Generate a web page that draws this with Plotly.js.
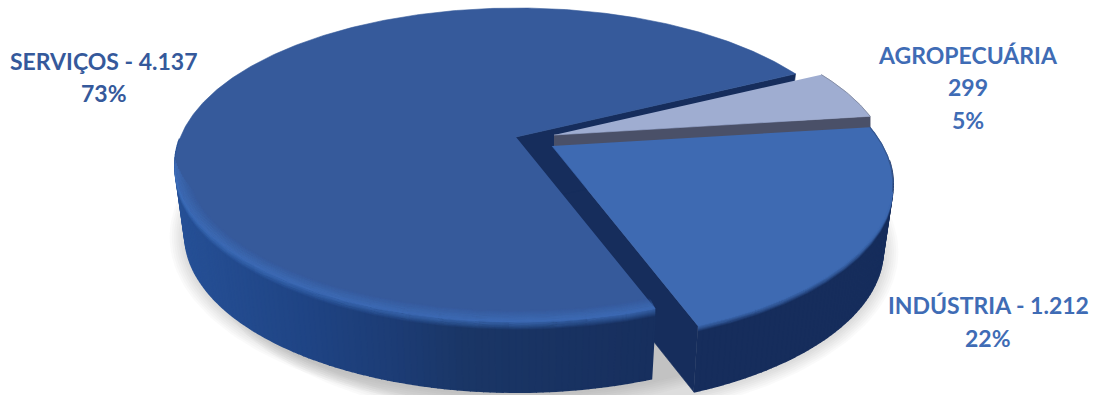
<!DOCTYPE html>
<html>
<head>
<meta charset="utf-8">
<script src="https://cdn.plot.ly/plotly-3.0.1.min.js"></script>
<style>html,body{margin:0;padding:0;background:#fff}#chart{width:1097px;height:395px}</style>
</head>
<body>
<div id="chart"></div>
<script>
// Employment by sector, drawn as a tilted exploded pie.
const sectors = ["SERVIÇOS", "INDÚSTRIA", "AGROPECUÁRIA"];
const totals = [4137, 1212, 299];
const shares = [73, 22, 5];

const serviceLabel = ["SERVIÇOS - 4.137", "73%"];
const industryLabel = ["INDÚSTRIA - 1.212", "22%"];
const farmLabel = ["AGROPECUÁRIA", "299", "5%"];

const topColors = ["#365a9b", "#3e6ab2", "#9fadd1"];
const navy = "#162d5c";
const farmWall = "#4a5068";
const labelColors = ["#35599b", "#3f6cb5", "#3f6cb5"];

// Disc geometry per slice, in pixel-sized axis units. Perspective puts each hub
// above the centre of its rim ellipse; the floor ellipse is a little narrower.
const discs = [
  {hub: [516, 137], rim: {cx: 517, cy: 165, a: 342, b: 157}, floor: {cx: 517, cy: 235, a: 332, b: 157}},
  {hub: [552, 146], rim: {cx: 551, cy: 184, a: 342, b: 157}, floor: {cx: 551, cy: 250, a: 332, b: 157}},
  {hub: [554, 135], rim: {cx: 548, cy: 169, a: 342, b: 157}, floor: {cx: 548, cy: 235, a: 332, b: 157}}
];
const hubDrop = 68;
const farmWallDrop = 12;
const startDeg = 26.5;
const foreshorten = 0.453;
const sideStops = [[175, [38, 80, 150]], [300, [31, 68, 132]], [400, [28, 59, 115]], [460, [26, 54, 102]], [650, [23, 47, 94]]];

const TAU = Math.PI * 2;
const sum = totals.reduce((a, b) => a + b, 0);
const spans = totals.map(v => v / sum * 360);
const starts = [startDeg, startDeg + spans[0], startDeg + spans[0] + spans[1]];

// Angle on a slice's rim ellipse reached by the ray for a given pie angle.
function rimAngle(disc, deg) {
  const t = deg * Math.PI / 180, e = disc.rim;
  const dx = Math.cos(t), dy = -Math.sin(t) * foreshorten;
  const ox = disc.hub[0] - e.cx, oy = disc.hub[1] - e.cy;
  const A = dx * dx / (e.a * e.a) + dy * dy / (e.b * e.b);
  const B = 2 * (ox * dx / (e.a * e.a) + oy * dy / (e.b * e.b));
  const C = ox * ox / (e.a * e.a) + oy * oy / (e.b * e.b) - 1;
  const k = (-B + Math.sqrt(B * B - 4 * A * C)) / (2 * A);
  return Math.atan2((oy + k * dy) / e.b, (ox + k * dx) / e.a);
}
const at = (e, phi) => [e.cx + e.a * Math.cos(phi), e.cy + e.b * Math.sin(phi)];
function sweep(i) {
  const d = discs[i];
  const p0 = rimAngle(d, starts[i]);
  const p1 = rimAngle(d, starts[i] + spans[i]);
  const delta = ((p0 - p1) % TAU + TAU) % TAU;
  return {from: p0, to: p0 - delta};
}
function arcPoints(e, from, to, step) {
  const n = Math.max(2, Math.ceil(Math.abs(to - from) / (step || 0.01)));
  const out = [];
  for (let i = 0; i <= n; i++) out.push(at(e, from + (to - from) * i / n));
  return out;
}
function sideColor(x) {
  if (x <= sideStops[0][0]) return sideStops[0][1];
  for (let i = 1; i < sideStops.length; i++) {
    if (x <= sideStops[i][0]) {
      const [x0, c0] = sideStops[i - 1], [x1, c1] = sideStops[i];
      const f = (x - x0) / (x1 - x0);
      return c0.map((c, k) => Math.round(c + (c1[k] - c) * f));
    }
  }
  return sideStops[sideStops.length - 1][1];
}

const traces = [];
function poly(pts, color, width) {
  traces.push({type: "scatter", mode: "lines", x: pts.map(p => p[0]), y: pts.map(p => p[1]),
    fill: "toself", fillcolor: color, line: {color: color, width: width === undefined ? 0.6 : width},
    hoverinfo: "skip", showlegend: false});
}
function stroke(pts, color, width) {
  traces.push({type: "scatter", mode: "lines", x: pts.map(p => p[0]), y: pts.map(p => p[1]),
    line: {color: color, width: width}, hoverinfo: "skip", showlegend: false});
}
function wall(i, phi, color) {
  const d = discs[i];
  poly([d.hub, at(d.rim, phi), at(d.floor, phi), [d.hub[0], d.hub[1] + hubDrop]], color);
}
// The farm slice's cut face only shows as a thin strip above the industry slice.
function thinWall(i, phi, drop, color) {
  const d = discs[i], c = at(d.rim, phi);
  poly([d.hub, c, [c[0], c[1] + drop], [d.hub[0], d.hub[1] + drop]], color);
}
// Soft ground shadow below the floor of the disc.
function shadow(i) {
  const f = discs[i].floor;
  for (let k = 7; k >= 1; k--) {
    const e = {cx: f.cx, cy: f.cy + 2, a: f.a + k * 2.2, b: f.b + k * 2};
    poly(arcPoints(e, 0, TAU, 0.03), "rgba(110,110,110,0.035)", 0);
  }
}
function side(i, fixed) {
  const d = discs[i], s = sweep(i);
  const n = Math.ceil(Math.abs(s.to - s.from) / 0.02);
  for (let j = 0; j < n; j++) {
    const a = s.from + (s.to - s.from) * j / n, b = s.from + (s.to - s.from) * (j + 1) / n;
    if (Math.sin(a) < -0.15 && Math.sin(b) < -0.15) continue;
    const pts = arcPoints(d.rim, a, b).concat(arcPoints(d.floor, b, a));
    const c = fixed || "rgb(" + sideColor(pts[0][0]).join(",") + ")";
    poly(pts, c, 2);
  }
}
function topFace(i) {
  const d = discs[i], s = sweep(i);
  poly([d.hub].concat(arcPoints(d.rim, s.from, s.to)), topColors[i]);
}
// Rounded front edge: fading strokes above and below the rim line.
function bevel(i, from, to, rgb, above, below, peak) {
  const e = discs[i].rim;
  const taper = Math.sign(from - to) * 0.018;
  for (let j = above; j >= 1; j--) {
    const inner = {cx: e.cx, cy: e.cy, a: e.a - j * 1.15, b: e.b - j};
    stroke(arcPoints(inner, from, to + j * taper), "rgba(" + rgb + "," + (peak * (1 - j / (above + 1))).toFixed(3) + ")", 1.4);
  }
  for (let j = 0; j <= below; j++) {
    const low = {cx: e.cx, cy: e.cy + j, a: e.a, b: e.b};
    stroke(arcPoints(low, from, to + j * taper), "rgba(" + rgb + "," + (peak * (1 - j / (below + 1))).toFixed(3) + ")", 1.4);
  }
}

const sweeps = [sweep(0), sweep(1), sweep(2)];

shadow(0);
shadow(1);
wall(1, sweeps[1].from, navy);
side(1, navy);
wall(0, sweeps[0].from, navy);
side(0);
topFace(0);
// Services front edge runs from its cut corner round to the far left of the disc.
bevel(0, sweeps[0].to, -Math.PI + 0.03, "62,110,186", 11, 7, 0.72);
thinWall(2, sweeps[2].from, farmWallDrop, farmWall);
topFace(2);
stroke(arcPoints(discs[2].rim, sweeps[2].from, sweeps[2].to), "#868fa6", 1);
topFace(1);
// Industry front edge, then the darker trim on its right shoulder.
bevel(1, sweeps[1].from, 0.05, "62,106,178", 0, 5, 0.9);
stroke(arcPoints(discs[1].rim, 0.05, sweeps[1].to), "#34568f", 1.2);

// Each label line is placed on its own so the leading stays even.
function label(lines, x, ys, color) {
  return lines.map((text, k) => ({x: x, y: ys[k], xref: "x", yref: "y", showarrow: false,
    xanchor: "center", yanchor: "middle", text: text,
    font: {family: "Lato", size: 23, color: color, weight: 700}}));
}
const annotations = [].concat(
  label(serviceLabel, 104, [61, 93], labelColors[0]),
  label(industryLabel, 988, [305, 338], labelColors[1]),
  label(farmLabel, 968, [55, 87, 120], labelColors[2])
);

Plotly.newPlot("chart", traces, {
  width: 1097, height: 395, margin: {l: 0, r: 0, t: 0, b: 0},
  paper_bgcolor: "#fff", plot_bgcolor: "#fff", showlegend: false,
  xaxis: {range: [0, 1097], visible: false, fixedrange: true},
  yaxis: {range: [395, 0], visible: false, fixedrange: true},
  annotations: annotations
}, {staticPlot: true});
</script>
</body>
</html>
